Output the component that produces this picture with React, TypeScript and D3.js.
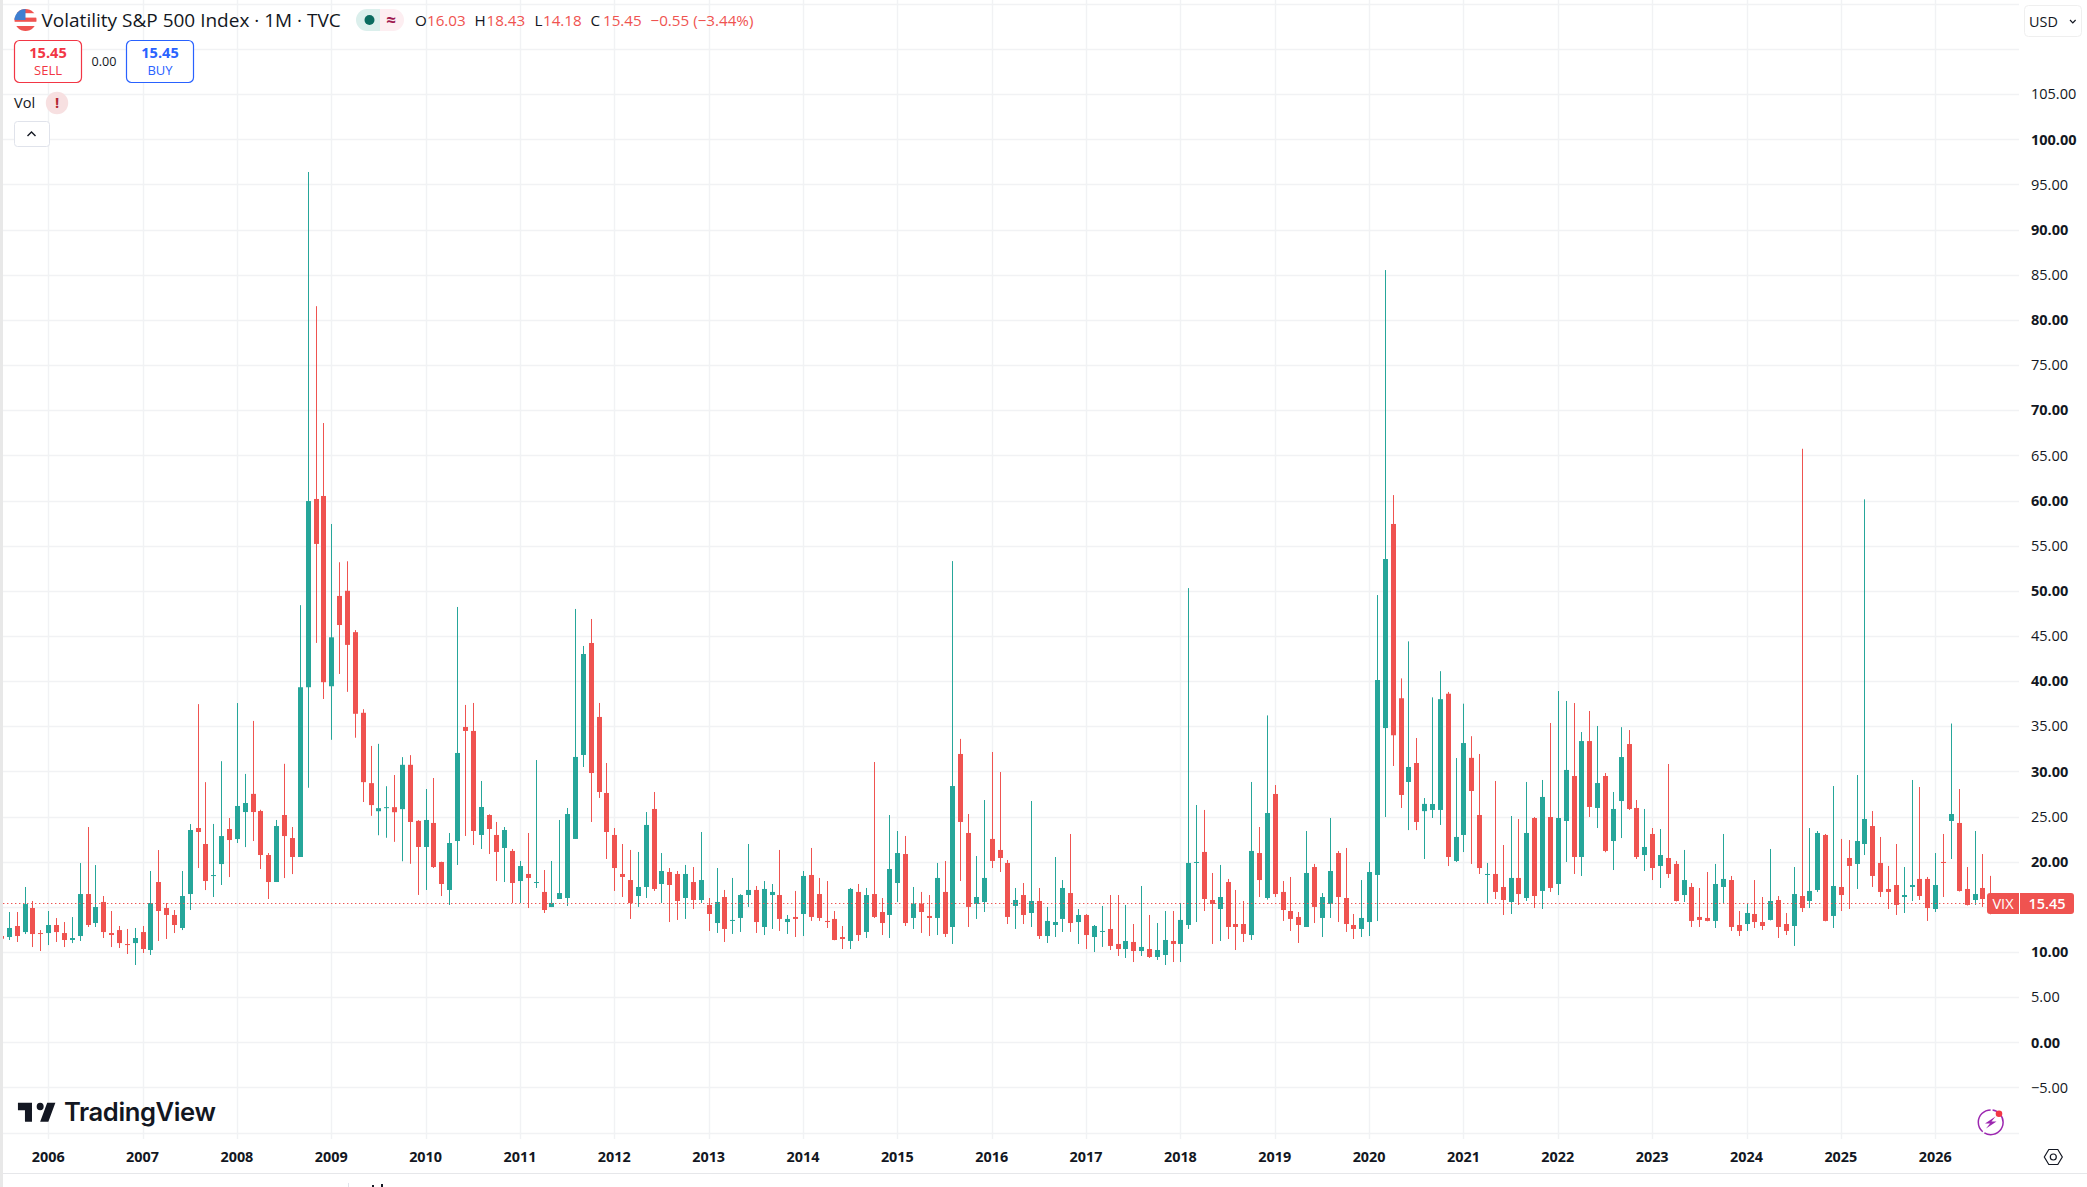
import { scaleLinear, timeMonths, line } from "d3";

// monthly bars, Jul 2005 .. Aug 2026, one row per calendar year
const opens = [
  11.77, 11.66, 12.88, 12.21, 14.87, 12.1,
  12.1, 12.99, 12.1, 11.33, 11.77, 16.42, 13.21, 15.54, 12.1, 12.43, 10.88, 10.99,
  12.21, 10.22, 17.75, 14.87, 14.1, 12.66, 16.42, 23.73, 21.96, 18.41, 19.74, 23.62,
  22.51, 25.5, 27.51, 25.61, 20.74, 17.75, 25.17, 22.62, 20.52, 39.32, 60.17, 60.5,
  39.43, 49.43, 50.0, 45.42, 36.49, 28.7, 25.59, 25.93, 26.04, 25.82, 30.73, 24.52,
  21.63, 24.29, 19.97, 16.87, 22.29, 34.92, 34.48, 22.96, 25.17, 22.96, 21.52, 21.19,
  17.86, 18.64, 17.64, 16.65, 14.98, 15.87, 15.98, 22.52, 31.82, 44.22, 36.03, 27.61,
  22.96, 18.64, 17.97, 16.2, 17.2, 25.84, 17.53, 18.86, 18.64, 15.98, 17.75, 15.76,
  15.21, 13.21, 16.09, 13.44, 13.77, 16.31, 16.87, 12.77, 16.31, 16.31, 13.32, 13.88,
  14.21, 18.53, 16.42, 13.44, 13.66, 11.66, 11.22, 16.65, 12.22, 16.42, 14.43, 14.1,
  17.64, 20.85, 13.77, 15.36, 13.99, 13.77, 16.65, 12.77, 31.93, 23.18, 15.32, 15.54,
  22.52, 21.3, 19.86, 15.1, 16.31, 14.32, 15.65, 11.77, 12.99, 13.66, 16.53, 13.32,
  14.1, 11.66, 12.22, 12.55, 10.89, 10.33, 11.11, 10.11, 10.33, 9.45, 9.67, 11.22,
  10.89, 12.99, 19.86, 21.08, 15.76, 14.76, 17.75, 13.1, 13.1, 11.88, 20.96, 15.98,
  27.5, 16.65, 14.54, 13.88, 12.77, 19.41, 13.77, 15.32, 20.96, 15.98, 12.99, 12.55,
  13.32, 18.53, 34.8, 57.4, 38.1, 28.83, 30.93, 25.6, 25.73, 25.73, 38.6, 20.08,
  22.96, 31.5, 25.17, 18.53, 18.64, 17.2, 15.54, 18.2, 15.98, 24.84, 16.76, 24.95,
  17.53, 24.51, 29.49, 20.52, 33.36, 25.95, 29.49, 22.29, 26.72, 33.03, 25.95, 20.74,
  23.07, 19.53, 20.41, 19.75, 16.31, 17.2, 13.88, 13.77, 13.44, 17.2, 17.97, 12.99,
  13.1, 14.21, 13.32, 13.55, 15.76, 13.1, 12.88, 16.2, 15.65, 16.87, 22.96, 13.99,
  17.2, 20.41, 19.75, 21.96, 23.95, 19.86, 16.98, 17.42, 16.09, 17.2, 18.09, 18.09,
  14.76, 19.97, 24.51, 24.29, 16.98, 15.76, 17.09, 16.03,
];
const highs = [
  11.9, 14.43, 14.43, 17.2, 15.65, 12.43,
  14.54, 13.76, 13.32, 13.87, 19.85, 23.84, 19.63, 16.2, 14.54, 12.88, 12.55, 12.66,
  12.88, 18.97, 21.29, 15.42, 14.65, 18.97, 24.17, 37.45, 28.81, 24.18, 31.13, 24.84,
  37.57, 29.72, 35.59, 25.75, 20.96, 24.62, 30.84, 23.84, 48.41, 96.38, 81.52, 68.58,
  57.4, 53.16, 53.27, 45.65, 36.89, 32.82, 33.05, 28.36, 29.6, 31.58, 31.8, 24.6,
  28.05, 29.27, 20.0, 23.18, 48.21, 37.36, 37.58, 28.94, 25.25, 24.4, 23.84, 21.41,
  20.08, 23.18, 31.26, 19.08, 20.08, 24.62, 25.95, 47.99, 43.89, 46.88, 37.58, 30.93,
  23.73, 21.96, 21.3, 21.08, 25.5, 27.72, 20.96, 19.3, 18.97, 19.64, 19.41, 23.29,
  15.98, 19.3, 16.87, 18.2, 16.4, 21.96, 17.31, 17.86, 17.53, 21.3, 14.1, 16.76,
  18.97, 21.52, 18.2, 17.86, 14.54, 12.88, 17.09, 17.53, 17.09, 31.04, 15.98, 25.17,
  23.4, 22.85, 17.2, 16.65, 16.31, 19.86, 20.08, 53.29, 33.6, 25.28, 20.63, 26.83,
  32.15, 29.93, 20.19, 17.09, 17.64, 26.72, 17.09, 14.99, 20.52, 17.97, 23.07, 14.76,
  14.2, 12.99, 15.1, 16.31, 16.31, 15.21, 13.1, 17.31, 14.1, 13.21, 14.54, 14.54,
  15.43, 50.3, 26.28, 25.73, 18.75, 19.64, 18.09, 16.87, 15.65, 28.83, 23.84, 36.2,
  28.49, 17.86, 18.31, 14.43, 23.4, 19.75, 16.53, 24.84, 21.19, 21.52, 14.21, 17.97,
  19.97, 49.53, 85.52, 60.6, 40.3, 44.4, 33.7, 27.05, 38.2, 41.1, 38.8, 31.48,
  37.5, 33.9, 31.93, 19.86, 28.94, 21.85, 25.06, 24.73, 28.83, 24.95, 29.05, 35.36,
  38.9, 37.8, 37.57, 34.36, 36.69, 35.03, 29.82, 27.72, 34.9, 34.58, 26.83, 25.84,
  23.73, 23.62, 30.82, 20.08, 21.3, 17.64, 17.09, 18.86, 19.75, 23.07, 18.42, 14.54,
  15.43, 17.97, 16.09, 21.41, 16.2, 14.32, 19.41, 65.73, 23.73, 23.4, 23.07, 28.38,
  22.52, 22.4, 29.6, 60.13, 25.61, 22.74, 19.53, 21.96, 19.41, 29.05, 28.27, 18.31,
  20.96, 23.07, 35.3, 28.05, 19.41, 23.4, 20.85, 18.43,
];
const lows = [
  11.3, 11.33, 11.11, 11.99, 10.55, 10.11,
  10.77, 11.11, 10.55, 10.99, 11.22, 12.77, 12.77, 11.55, 10.55, 10.44, 9.78, 8.56,
  9.89, 9.67, 11.22, 11.44, 12.1, 12.43, 14.65, 19.3, 16.86, 16.09, 17.42, 18.3,
  22.07, 21.62, 22.29, 19.19, 15.87, 17.75, 18.19, 18.63, 20.52, 28.19, 44.23, 38.02,
  33.5, 40.79, 38.81, 33.73, 26.61, 25.08, 22.93, 22.65, 22.2, 20.05, 19.77, 16.32,
  16.87, 19.3, 16.2, 15.21, 19.64, 22.85, 21.85, 21.41, 20.85, 17.86, 17.75, 15.43,
  15.43, 14.87, 17.09, 14.32, 14.98, 15.87, 15.1, 22.52, 30.49, 24.4, 27.06, 20.3,
  16.76, 16.09, 13.66, 14.99, 15.98, 16.76, 15.43, 13.32, 13.55, 13.66, 14.76, 15.43,
  12.33, 12.11, 11.11, 12.0, 12.22, 14.99, 12.11, 11.88, 12.55, 12.33, 12.0, 11.66,
  11.77, 13.44, 13.44, 12.66, 11.3, 10.33, 10.33, 11.22, 11.55, 13.77, 11.88, 11.55,
  15.54, 12.88, 12.55, 12.11, 11.77, 11.88, 11.66, 10.89, 17.86, 12.77, 13.66, 14.43,
  19.3, 18.86, 13.1, 12.55, 13.1, 12.77, 11.44, 11.0, 11.66, 12.22, 12.22, 10.89,
  10.33, 10.0, 10.56, 10.22, 9.56, 9.34, 8.89, 9.56, 9.34, 9.12, 8.56, 8.89,
  8.89, 12.55, 13.32, 14.54, 10.89, 11.22, 11.44, 10.22, 11.11, 11.33, 16.09, 15.8,
  16.09, 13.44, 12.33, 11.0, 12.77, 13.21, 11.66, 13.77, 13.32, 12.22, 11.44, 11.66,
  11.77, 13.43, 24.95, 30.6, 25.95, 23.5, 23.5, 20.3, 24.84, 24.07, 19.52, 19.97,
  21.07, 19.75, 18.64, 15.32, 15.87, 14.1, 14.21, 15.21, 15.65, 14.87, 14.76, 16.65,
  16.31, 19.97, 18.64, 18.42, 24.95, 23.73, 21.05, 19.08, 22.62, 25.73, 20.3, 18.97,
  17.97, 17.09, 18.2, 15.6, 15.54, 12.77, 12.77, 13.4, 12.66, 15.32, 12.33, 11.77,
  12.33, 12.66, 12.44, 13.5, 11.55, 11.88, 10.67, 14.43, 14.87, 16.65, 13.4, 12.66,
  14.54, 14.76, 16.98, 20.74, 17.2, 16.09, 14.76, 14.1, 14.32, 15.65, 15.76, 13.44,
  14.43, 16.09, 20.3, 16.7, 15.15, 15.21, 14.99, 14.18,
];
const closes = [
  11.47, 12.66, 11.77, 15.31, 11.99, 11.99,
  12.99, 12.21, 11.33, 11.55, 16.42, 12.99, 14.98, 12.21, 11.88, 10.99, 10.77, 11.55,
  10.33, 15.42, 14.54, 14.1, 12.99, 16.2, 23.51, 23.29, 17.86, 18.52, 22.84, 22.4,
  26.17, 26.5, 25.5, 20.74, 17.75, 23.95, 22.84, 20.52, 39.32, 59.94, 55.19, 39.88,
  44.85, 46.21, 44.01, 36.38, 28.81, 26.27, 25.93, 26.04, 25.48, 30.73, 24.4, 21.63,
  24.62, 19.41, 17.53, 22.07, 32.04, 34.48, 23.4, 26.06, 23.62, 21.08, 23.51, 17.64,
  19.52, 18.2, 17.75, 14.65, 15.43, 16.53, 25.28, 31.6, 43.0, 29.82, 27.72, 23.29,
  19.3, 18.31, 15.43, 17.2, 24.07, 16.98, 18.97, 17.42, 15.65, 18.64, 15.76, 17.97,
  14.21, 15.54, 12.55, 13.55, 16.31, 16.87, 13.32, 16.98, 16.65, 13.66, 13.66, 13.66,
  18.42, 13.88, 13.77, 13.32, 11.33, 11.44, 16.98, 11.88, 16.31, 13.88, 13.21, 19.19,
  20.96, 13.21, 15.36, 14.43, 13.77, 18.2, 12.0, 28.38, 24.4, 14.99, 16.09, 18.2,
  20.08, 20.41, 13.88, 15.76, 14.1, 15.65, 11.77, 13.44, 13.32, 17.09, 13.21, 14.1,
  11.88, 12.88, 12.33, 10.67, 10.33, 11.22, 10.11, 10.56, 9.45, 10.22, 11.33, 10.89,
  13.55, 19.86, 19.97, 15.87, 15.32, 16.09, 12.77, 12.77, 12.0, 21.19, 17.97, 25.39,
  16.42, 14.65, 13.66, 12.99, 18.75, 14.99, 16.09, 18.97, 16.09, 13.1, 12.55, 13.77,
  18.86, 40.12, 53.52, 34.0, 27.39, 30.49, 24.4, 26.4, 26.39, 38.0, 20.52, 22.74,
  33.14, 27.83, 19.3, 18.64, 16.65, 15.76, 18.2, 16.42, 23.18, 16.2, 27.17, 17.09,
  24.84, 30.16, 20.52, 33.36, 26.06, 28.71, 21.19, 25.84, 31.59, 25.84, 20.52, 21.63,
  19.3, 20.74, 18.64, 15.65, 17.97, 13.44, 13.55, 13.44, 17.53, 18.09, 12.77, 12.33,
  14.32, 13.32, 12.88, 15.65, 12.77, 12.33, 16.42, 14.87, 16.76, 23.18, 13.44, 17.31,
  16.31, 19.53, 22.29, 24.73, 18.42, 16.65, 16.65, 15.21, 16.31, 17.42, 16.2, 14.87,
  17.42, 19.86, 25.28, 16.76, 15.21, 16.42, 15.87, 15.45,
];

const months = timeMonths(new Date(2005, 6, 1), new Date(2026, 8, 1));
const yearLabels = [2006, 2007, 2008, 2009, 2010, 2011, 2012, 2013, 2014, 2015, 2016, 2017, 2018, 2019, 2020, 2021, 2022, 2023, 2024, 2025, 2026];
const priceGrid = [-10, -5, 0, 5, 10, 15, 20, 25, 30, 35, 40, 45, 50, 55, 60, 65, 70, 75, 80, 85, 90, 95, 100, 105, 110, 115];
const priceLabels = [-5, 0, 5, 10, 15, 20, 25, 30, 35, 40, 45, 50, 55, 60, 65, 70, 75, 80, 85, 90, 95, 100, 105];
const ohlcLegend = [
  ["O", "16.03"],
  ["H", "18.43"],
  ["L", "14.18"],
  ["C", "15.45"],
];
const lastPrice = 15.45;

const UP = "#26a69a";
const DOWN = "#ef5350";
const INK = "#131722";
const GRID = "#f1f2f4";
const FONT = "'Open Sans', 'Noto Sans', sans-serif";

const W = 2087;
const H = 1187;

export default function App() {
  // bar index -> pixel, value -> pixel
  const x = scaleLinear().domain([6, 246]).range([48.2, 1935.2]);
  const y = scaleLinear().domain([0, 100]).range([1042.3, 139.3]);
  const yearIndex = (yr: number) => (yr - 2005) * 12 - 6;

  const gridLine = line<[number, number]>();

  return (
    <svg
      width={W}
      height={H}
      viewBox={`0 0 ${W} ${H}`}
      style={{ position: "fixed", left: 0, top: 0, background: "#fff", fontFamily: FONT }}
    >
      <defs>
        <clipPath id="pane">
          <rect x={3} y={0} width={2017} height={1140} />
        </clipPath>
        <clipPath id="flag">
          <circle cx={25.5} cy={20} r={11} />
        </clipPath>
      </defs>

      {priceGrid.map((p) => (
        <path
          key={p}
          d={gridLine([[3, Math.round(y(p)) + 0.5], [2019, Math.round(y(p)) + 0.5]]) ?? ""}
          stroke={GRID}
          strokeWidth={1.4}
        />
      ))}
      {yearLabels.map((yr) => {
        const px = Math.round(x(yearIndex(yr))) + 0.5;
        return <path key={yr} d={gridLine([[px, 0], [px, 1139]]) ?? ""} stroke={GRID} strokeWidth={1.4} />;
      })}

      <g clipPath="url(#pane)">
        {months.map((m, i) => {
          const o = opens[i];
          const c = closes[i];
          const col = c >= o ? UP : DOWN;
          const px = Math.round(x(i));
          const top = y(Math.max(o, c));
          const bot = y(Math.min(o, c));
          return (
            <g key={m.getTime()} fill={col}>
              <rect x={px} y={y(highs[i])} width={1} height={y(lows[i]) - y(highs[i])} />
              <rect x={px - 2} y={top} width={5} height={Math.max(bot - top, 1)} />
            </g>
          );
        })}
      </g>

      <line
        x1={3}
        x2={1987}
        y1={Math.round(y(lastPrice)) + 0.5}
        y2={Math.round(y(lastPrice)) + 0.5}
        stroke={DOWN}
        strokeWidth={1}
        strokeDasharray="1.4 2.6"
      />

      {/* left edge of the page */}
      <rect x={0} y={0} width={3} height={H} fill="#e8e8e8" />

      {/* price axis */}
      {priceLabels.map((p) => (
        <text
          key={p}
          x={2031}
          y={y(p)}
          dy="0.36em"
          fontSize={14.5}
          fontWeight={p % 10 === 0 ? 700 : 400}
          fill={INK}
        >
          {(p < 0 ? "\u2212" : "") + Math.abs(p).toFixed(2)}
        </text>
      ))}

      {/* last price tags */}
      <path d="M1990 893 H2019 V914 H1990 Q1987 914 1987 911 V896 Q1987 893 1990 893 Z" fill={DOWN} />
      <path d="M2020 893 H2071 Q2074 893 2074 896 V911 Q2074 914 2071 914 H2020 Z" fill={DOWN} />
      <text x={2003} y={903.5} dy="0.36em" textAnchor="middle" fontSize={14.5} fill="#fff">VIX</text>
      <text x={2047} y={903.5} dy="0.36em" textAnchor="middle" fontSize={14.5} fontWeight={600} fill="#fff">
        {lastPrice.toFixed(2)}
      </text>

      {/* time axis */}
      {yearLabels.map((yr) => (
        <text
          key={yr}
          x={x(yearIndex(yr))}
          y={1157}
          dy="0.36em"
          textAnchor="middle"
          fontSize={14.4}
          fontWeight={700}
          fill={INK}
        >
          {yr}
        </text>
      ))}
      <line x1={3} x2={W} y1={1173.5} y2={1173.5} stroke="#e6e7ea" strokeWidth={1.2} />
      <line x1={348.5} x2={348.5} y1={1183} y2={H} stroke="#e0e3eb" />
      <rect x={372} y={1185} width={2} height={2} fill={INK} />
      <rect x={381} y={1184} width={2} height={3} fill={INK} />

      {/* header */}
      <g clipPath="url(#flag)">
        <rect x={14} y={9} width={24} height={22} fill="#fff" />
        <rect x={14} y={9} width={24} height={4.2} fill="#ef5350" />
        <rect x={14} y={17.6} width={24} height={4.2} fill="#ef5350" />
        <rect x={14} y={26} width={24} height={5} fill="#ef5350" />
        <rect x={14} y={9} width={11.5} height={11} fill="#3f7fd0" />
      </g>
      <text x={41.5} y={20.5} dy="0.36em" fontSize={19} fill={INK}>
        Volatility S&amp;P 500 Index · 1M · TVC
      </text>
      <path d="M367 9 H380 V31 H367 A11 11 0 0 1 367 9 Z" fill="#dbefec" />
      <path d="M380 9 H393 A11 11 0 0 1 393 31 H380 Z" fill="#fdeef1" />
      <circle cx={369.5} cy={20} r={5} fill="#0a6b5f" />
      <text x={391} y={20} dy="0.36em" textAnchor="middle" fontSize={17} fontWeight={700} fill="#a01a50">≈</text>
      {ohlcLegend.map(([k, v], i) => {
        const lx = [415, 474.5, 534.5, 590.5][i];
        const vx = [427, 486.5, 543, 603][i];
        return (
          <g key={k} fontSize={15.2}>
            <text x={lx} y={20.5} dy="0.36em" fill={INK}>{k}</text>
            <text x={vx} y={20.5} dy="0.36em" fill={DOWN}>{v}</text>
          </g>
        );
      })}
      <text x={650.5} y={20.5} dy="0.36em" fontSize={15.2} fill={DOWN}>−0.55 (−3.44%)</text>

      <rect x={14.5} y={40.5} width={67} height={42} rx={5} fill="#fff" stroke="#f23645" strokeWidth={1.2} />
      <text x={48} y={53} dy="0.36em" textAnchor="middle" fontSize={14.6} fontWeight={700} fill="#f23645">15.45</text>
      <text x={48} y={70.5} dy="0.36em" textAnchor="middle" fontSize={13} fill="#f23645">SELL</text>
      <text x={104} y={61} dy="0.36em" textAnchor="middle" fontSize={12.6} fill={INK}>0.00</text>
      <rect x={126.5} y={40.5} width={67} height={42} rx={5} fill="#fff" stroke="#2962ff" strokeWidth={1.2} />
      <text x={160} y={53} dy="0.36em" textAnchor="middle" fontSize={14.6} fontWeight={700} fill="#2962ff">15.45</text>
      <text x={160} y={70.5} dy="0.36em" textAnchor="middle" fontSize={13} fill="#2962ff">BUY</text>

      <text x={14} y={103} dy="0.36em" fontSize={14.6} fill={INK}>Vol</text>
      <circle cx={57} cy={103} r={11.2} fill="#f7e0e1" />
      <text x={57} y={103} dy="0.36em" textAnchor="middle" fontSize={14.6} fontWeight={700} fill="#b22833">!</text>

      <rect x={14.5} y={121.5} width={35} height={25} rx={3} fill="#fff" stroke="#e0e3eb" />
      <path d="M27.5 136 L31.5 132 L35.5 136" fill="none" stroke={INK} strokeWidth={1.4} />

      <rect x={2024.5} y={5.5} width={57} height={31} rx={4} fill="#fff" stroke="#efefef" />
      <text x={2029} y={21.5} dy="0.36em" fontSize={14.4} fill={INK}>USD</text>
      <path d="M2070 20 L2072.8 22.8 L2075.6 20" fill="none" stroke={INK} strokeWidth={1.2} />

      {/* logo */}
      <g transform="translate(15.6 1095.1) scale(1.17 1.27)" fill="#131722">
        <path d="M14 6H2v6h6v9h6V6Zm14 15h-7l6-15h7l-6 15Zm-7-9a3 3 0 1 0 0-6 3 3 0 0 0 0 6Z" />
      </g>
      <text x={64} y={1112} dy="0.36em" fontSize={25.6} fontWeight={600} fontFamily="Inter, sans-serif" letterSpacing={-0.4} fill="#131722">
        TradingView
      </text>

      {/* lightning badge */}
      <circle cx={1990.7} cy={1122.3} r={12.4} fill="none" stroke="#9c27b0" strokeWidth={1.5} strokeDasharray="26 2 30 2" />
      <path d="M1995.5 1116.5 L1985 1123.5 H1990 L1986 1128.5 L1996.5 1121.5 H1991.5 Z" fill="#9c27b0" />
      <circle cx={1999} cy={1113.7} r={3.3} fill="#f23645" />

      {/* settings */}
      <path d="M2044.3 1157 L2048.8 1149.5 H2057.8 L2062.3 1157 L2057.8 1164.5 H2048.8 Z" fill="none" stroke={INK} strokeWidth={1.2} />
      <circle cx={2053.3} cy={1157} r={3} fill="none" stroke={INK} strokeWidth={1.2} />
    </svg>
  );
}
